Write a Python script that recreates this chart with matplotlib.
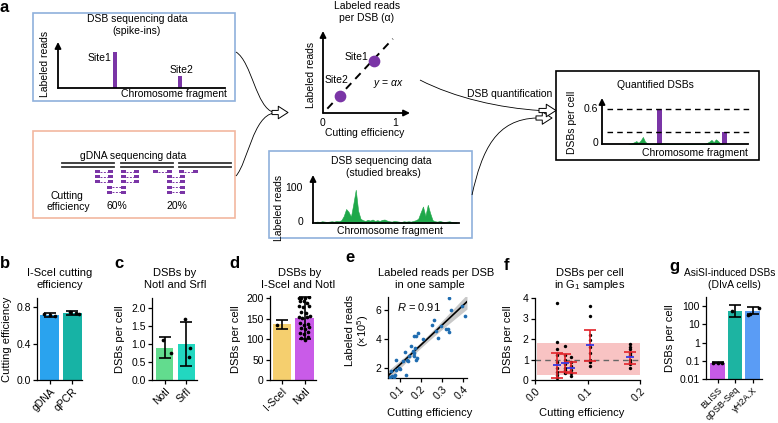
import numpy as np
import matplotlib.pyplot as plt
from matplotlib.patches import Rectangle, FancyArrowPatch, PathPatch
from matplotlib.path import Path

plt.rcParams['font.family'] = ['Liberation Sans', 'DejaVu Sans']
plt.rcParams['font.size'] = 7.5
plt.rcParams['mathtext.fontset'] = 'custom'
plt.rcParams['mathtext.rm'] = 'Liberation Sans'
plt.rcParams['mathtext.it'] = 'Liberation Sans:italic'
plt.rcParams['axes.linewidth'] = 0.9
plt.rcParams['xtick.major.size'] = 3
plt.rcParams['ytick.major.size'] = 3
plt.rcParams['xtick.major.pad'] = 1.5
plt.rcParams['ytick.major.pad'] = 1.5

# ---- data ----
# a: spike-in sites
site_names = ['Site1', 'Site2']
site_pos = [34, 73]
site_reads = [0.6, 0.2]
site_eff = [0.71, 0.24]
site_lab = [0.72, 0.24]
# a: studied breaks track (labeled reads)
studied_sig = [3, 4, 3, 5, 4, 3, 4, 5, 4, 6, 5, 8, 20, 40, 32, 18, 55, 95, 35, 12,
               8, 6, 9, 7, 10, 6, 8, 6, 9, 10, 7, 5, 4, 6, 5, 4, 3, 5, 4, 5,
               4, 6, 8, 12, 30, 47, 20, 52, 28, 8, 5, 4, 6, 4, 3, 4, 5, 3, 2, 2]
# a: quantified DSBs track
quant_pos = [18, 20, 22, 23.5, 25, 26.5, 28, 29.5, 31, 33, 42, 45, 48, 70, 72, 73.5, 75, 76.5, 78, 79.5, 81, 83]
quant_sig = [0, 0.01, 0.03, 0.05, 0.02, 0.06, 0.12, 0.04, 0.01, 0, 0.01, 0.01, 0, 0,
             0.02, 0.04, 0.07, 0.03, 0.08, 0.05, 0.01, 0]
quant_bar_pos = [39.3, 84]
quant_bar_val = [0.6, 0.2]
# a: gDNA read pairs (left px, right px, row px)
read_pairs = [(95, 113, 171.7), (95, 113, 176.7), (95, 113, 181.7),
              (121, 139, 171.7), (121, 139, 176.7), (121, 139, 181.7),
              (107, 126.5, 187.3), (107, 126.5, 192.3),
              (153.3, 171.7, 171.7), (179, 198.3, 171.7),
              (166.7, 185, 176.7), (166.7, 185, 181.7), (166.7, 185, 187.3), (166.7, 185, 192.3)]
chrom_segments = [(62, 114), (121, 173), (179, 231)]

# b
b_cats = ['gDNA', 'qPCR']
b_vals = [0.71, 0.73]
b_lo = [0.695, 0.71]
b_hi = [0.74, 0.76]
b_dots = [[0.72, 0.715, 0.70], [0.75, 0.73, 0.72]]
b_dx = [[-0.3, 0.0, 0.3], [-0.1, 0.2, 0.35]]
b_cols = ['#2aa3ee', '#17b3a5']
# c
c_cats = ['NotI', 'SrfI']
c_vals = [0.9, 1.0]
c_lo = [0.6, 0.4]
c_hi = [1.2, 1.62]
c_dots = [[1.12, 0.76], [1.69, 0.88, 0.63]]
c_dx = [[-0.06, 0.35], [-0.09, 0.2, 0.17]]
c_cols = ['#62dc8e', '#22d7c0']
# d
d_cats = ['I-SceI', 'NotI']
d_vals = [136, 152]
d_lo = [124, 100]
d_hi = [146, 203]
d_dots = [[134],
          [201, 200, 200, 203, 192, 194, 189, 180, 178, 181, 167, 163, 153, 151,
           153, 157, 139, 135, 137, 127, 124, 129, 114, 113, 116, 102, 98, 104]]
d_dx = [[-0.25],
        [-0.33, -0.2, 0.03, 0.22, -0.26, -0.04, 0.13, -0.33, -0.07, 0.22, -0.2, 0.07, -0.33, -0.12,
         0.1, 0.3, -0.26, -0.04, 0.18, -0.2, 0.03, 0.25, -0.26, -0.04, 0.18, -0.2, 0.03, 0.18]]
d_cols = ['#f5cf6e', '#c95be8']
# e
e_x = [0.053, 0.064, 0.073, 0.08, 0.061, 0.084, 0.097, 0.10, 0.084, 0.131, 0.116, 0.127,
       0.136, 0.142, 0.147, 0.155, 0.162, 0.167, 0.17, 0.173, 0.178, 0.183, 0.167, 0.178,
       0.186, 0.209, 0.252, 0.261, 0.272, 0.28, 0.298, 0.319, 0.331, 0.334, 0.334, 0.342,
       0.397, 0.41]
e_y = [1.38, 1.47, 1.38, 1.52, 1.77, 1.89, 2.0, 1.95, 2.57, 1.54, 2.46, 3.08,
       2.57, 2.46, 2.8, 3.49, 3.15, 3.03, 2.8, 3.38, 2.57, 2.69, 4.18, 4.18,
       4.41, 4.0, 4.99, 5.29, 4.57, 4.07, 4.92, 4.69, 4.69, 4.48, 6.85, 6.0,
       6.25, 5.56]
# f
f_x = [0.042, 0.057, 0.068, 0.105, 0.181]
f_mean = [0.73, 0.82, 0.6, 1.7, 1.1]
f_lo = [0.12, 0.4, 0.35, 0.95, 0.8]
f_hi = [1.33, 1.25, 0.88, 2.45, 1.38]
f_dots = [[3.75, 1.87, 1.5, 1.2, 0.9, 0.6, 0.4, 0.25, 0.1],
          [1.67, 1.2, 1.0, 0.8, 0.6, 0.5, 0.35],
          [1.1, 0.9, 0.7, 0.5, 0.35, 0.2],
          [3.6, 3.1, 2.2, 1.95, 1.6, 1.3, 1.0, 0.9, 0.7],
          [1.77, 1.6, 1.5, 1.3, 1.2, 1.0, 0.9, 0.8, 0.6]]
# g
g_cats = ['BLISS', 'qDSB-Seq', 'γH2A.X']
g_vals = [0.08, 52, 57]
g_lo = [0.078, 25, 37]
g_hi = [0.082, 122, 88]
g_dots = [[0.08, 0.08, 0.08], [56], [32, 37, 75]]
g_dx = [[-0.3, 0.0, 0.3], [-0.23], [-0.3, -0.15, 0.45]]
g_cols = ['#c65ae6', '#1db4a2', '#5a9cf5']

purple = '#7a35a6'
green = '#1fa84a'
blue_box = '#8fb0dc'
salmon_box = '#f2b7a0'

W, H = 778, 423
fig = plt.figure(figsize=(W / 100, H / 100), dpi=100)


def px_axes(x0, y0, x1, y1):
    return fig.add_axes([x0 / W, 1 - y1 / H, (x1 - x0) / W, (y1 - y0) / H])


ax0 = fig.add_axes([0, 0, 1, 1])
ax0.set_xlim(0, W)
ax0.set_ylim(H, 0)
ax0.axis('off')


def txt(x, y, s, **kw):
    kw.setdefault('ha', 'center')
    kw.setdefault('va', 'center')
    ax0.text(x, y, s, **kw)


def axis_arrow(ax, x0, y0, x1, y1):
    ax.annotate('', xy=(x1, y1), xytext=(x0, y0), annotation_clip=False,
                arrowprops=dict(arrowstyle='-|>', color='k', lw=1.3,
                                mutation_scale=9, shrinkA=0, shrinkB=0))


def bezier(p0, p1, p2, p3):
    path = Path([p0, p1, p2, p3], [Path.MOVETO, Path.CURVE4, Path.CURVE4, Path.CURVE4])
    ax0.add_patch(PathPatch(path, fill=False, ec='k', lw=0.6))


# ---- panel a: boxes ----
txt(4, 7, 'a', fontsize=12, fontweight='bold')
ax0.add_patch(Rectangle((33, 13), 202, 88, fill=False, ec=blue_box, lw=1.2))
ax0.add_patch(Rectangle((33, 131), 202, 87, fill=False, ec=salmon_box, lw=1.2))
ax0.add_patch(Rectangle((269.5, 151), 202.5, 87, fill=False, ec=blue_box, lw=1.2))
ax0.add_patch(Rectangle((556, 71), 203, 89, fill=False, ec='k', lw=1.2))

# spike-ins
txt(137, 19.5, 'DSB sequencing data')
txt(137, 31, '(spike-ins)')
txt(45, 64, 'Labeled reads', rotation=90)
txt(174, 94, 'Chromosome fragment')
txt(100, 58, site_names[0])
txt(182, 70, site_names[1])
ax1 = px_axes(58, 42, 225, 88)
ax1.set_xlim(0, 100)
ax1.set_ylim(0, 0.77)
ax1.axis('off')
ax1.bar(site_pos, site_reads, width=2.6, color=purple)
axis_arrow(ax1, 0, 0, 0, 0.77)
ax1.plot([0, 100], [0, 0], color='k', lw=1.3, clip_on=False)

# gDNA
txt(133, 156, 'gDNA sequencing data')
txt(67, 196, 'Cutting')
txt(68, 207, 'efficiency')
txt(117, 206, '60%')
txt(177, 206, '20%')
for xa, xb in chrom_segments:
    ax0.plot([xa, xb], [163.3, 163.3], color='#333333', lw=1.3)
    ax0.plot([xa, xb], [166.6, 166.6], color='#333333', lw=1.3)
for xa, xb, yy in read_pairs:
    ax0.plot([xa + 5, xb - 5], [yy, yy], color=purple, lw=0.7, ls=(0, (2, 1.5)))
    ax0.add_patch(Rectangle((xa, yy - 1.6), 5, 3.2, color=purple, lw=0))
    ax0.add_patch(Rectangle((xb - 5, yy - 1.6), 5, 3.2, color=purple, lw=0))

# alpha schematic
txt(367, 6, 'Labeled reads')
txt(367, 18, 'per DSB (α)')
txt(311, 75, 'Labeled reads', rotation=90)
txt(365, 133, 'Cutting efficiency')
txt(323, 123, '0')
txt(395, 123, '1')
txt(357, 57, site_names[0])
txt(337, 80, site_names[1])
txt(389, 84, r'$y$ = $\alpha$$x$')
ax2 = px_axes(323, 31, 410, 113)
ax2.set_xlim(0, 87 / 72)
ax2.set_ylim(0, 82 / 72)
ax2.axis('off')
ax2.plot([0.06, 0.97], [0.06, 1.03], color='k', lw=1.4, dashes=(4, 3))
ax2.scatter(site_eff, site_lab, s=55, color=purple, zorder=3, clip_on=False)
axis_arrow(ax2, 0, 0, 0, 82 / 72)
axis_arrow(ax2, 0, 0, 87 / 72, 0)

# studied breaks
txt(381, 161, 'DSB sequencing data')
txt(383, 172.5, '(studied breaks)')
txt(279, 208, 'Labeled reads', rotation=90)
txt(390, 231, 'Chromosome fragment')
txt(303, 188, '100', ha='right')
txt(303, 222, '0', ha='right')
ax3 = px_axes(313, 175, 459, 223)
ax3.set_xlim(-0.8, 60)
ax3.set_ylim(0, 137)
ax3.axis('off')
sx = np.arange(len(studied_sig))
ax3.fill_between(sx, 0, studied_sig, color=green, lw=0.4)
axis_arrow(ax3, -0.8, 0, -0.8, 137)
ax3.plot([-0.8, 60], [0, 0], color='k', lw=1.3, clip_on=False)

# quantified
txt(655, 84.5, 'Quantified DSBs')
txt(572, 122, 'DSBs per cell', rotation=90)
txt(598, 109, '0.6', ha='right')
txt(598, 143.5, '0', ha='right')
txt(695, 152.5, 'Chromosome fragment')
ax4 = px_axes(602, 98, 748, 144)
ax4.set_xlim(0, 100)
ax4.set_ylim(0, 0.78)
ax4.axis('off')
ax4.fill_between(quant_pos, 0, quant_sig, color=green, lw=0.4)
ax4.bar(quant_bar_pos, quant_bar_val, width=3.2, color=purple)
for v in quant_bar_val:
    ax4.plot([3.4, 102], [v, v], color='k', lw=1.0, dashes=(4, 3), clip_on=False)
axis_arrow(ax4, 0, 0, 0, 0.78)
ax4.plot([0, 100], [0, 0], color='k', lw=1.3, clip_on=False)

# connecting arrows
bezier((236, 52), (252, 62), (256, 108), (274, 112.5))
bezier((236, 176), (248, 162), (253, 116), (274, 113))
bezier((420, 80), (455, 98), (500, 108), (540, 110.5))
bezier((472, 195), (482, 150), (496, 119), (537, 118))
hollow = dict(arrowstyle='simple,head_length=0.7,head_width=0.9,tail_width=0.3',
              fc='white', ec='k', lw=0.7, mutation_scale=10, shrinkA=0, shrinkB=0)
ax0.add_patch(FancyArrowPatch((272, 112.5), (288, 112.5), **hollow))
ax0.add_patch(FancyArrowPatch((536, 118), (552, 118), **hollow))
ax0.add_patch(FancyArrowPatch((539, 110.5), (556, 110.5), **hollow))
txt(510, 94, 'DSB quantification')


# ---- bottom panels ----
def style(ax):
    for s in ['top', 'right']:
        ax.spines[s].set_visible(False)
    ax.tick_params(labelsize=7.5, width=0.9)


def bar_panel(ax, cats, vals, lo, hi, dots, dx, cols, width, dotsize=7):
    pos = np.arange(len(cats))
    ax.bar(pos, vals, width=width, color=cols)
    ax.errorbar(pos, vals, yerr=[np.array(vals) - np.array(lo), np.array(hi) - np.array(vals)],
                fmt='none', ecolor='k', elinewidth=1.2, capsize=4.5, capthick=1.2, zorder=4)
    for i in range(len(cats)):
        ax.scatter(pos[i] + np.array(dx[i]) * width, dots[i], s=dotsize, color='k', zorder=5, lw=0)
    ax.set_xticks(pos)
    ax.set_xticklabels(cats, rotation=45, ha='right', rotation_mode='anchor')
    style(ax)


tfs = 8
# b
txt(5, 263, 'b', fontsize=12, fontweight='bold')
txt(60, 273, 'I-SceI cutting', fontsize=tfs)
txt(60, 284.5, 'efficiency', fontsize=tfs)
txt(7, 339, 'Cutting efficiency', rotation=90, fontsize=tfs)
axb = px_axes(37, 298, 82, 380)
bar_panel(axb, b_cats, b_vals, b_lo, b_hi, b_dots, b_dx, b_cols, 0.85)
axb.set_xlim(-0.56, 1.44)
axb.set_ylim(0, 0.9)
axb.set_yticks([0, 0.4, 0.8])
axb.set_yticklabels(['0.0', '0.4', '0.8'])

# c
txt(119, 263, 'c', fontsize=12, fontweight='bold')
txt(175, 273, 'DSBs by', fontsize=tfs)
txt(175, 284.5, 'NotI and SrfI', fontsize=tfs)
txt(120, 339, 'DSBs per cell', rotation=90, fontsize=tfs)
axc = px_axes(152, 298, 197, 380)
bar_panel(axc, c_cats, c_vals, c_lo, c_hi, c_dots, c_dx, c_cols, 0.8)
axc.set_xlim(-0.57, 1.48)
axc.set_ylim(0, 2.28)
axc.set_yticks([0, 0.5, 1.0, 1.5, 2.0])
axc.set_yticklabels(['0.0', '0.5', '1.0', '1.5', '2.0'])

# d
txt(234, 263, 'd', fontsize=12, fontweight='bold')
txt(300, 273, 'DSBs by', fontsize=tfs)
txt(298, 284.5, 'I-SceI and NotI', fontsize=tfs)
txt(236, 339, 'DSBs per cell', rotation=90, fontsize=tfs)
axd = px_axes(270, 296, 316, 380)
bar_panel(axd, d_cats, d_vals, d_lo, d_hi, d_dots, d_dx, d_cols, 0.82)
axd.set_xlim(-0.53, 1.5)
axd.set_ylim(0, 205)
axd.set_yticks([0, 50, 100, 150, 200])

# e
txt(350, 258, 'e', fontsize=12, fontweight='bold')
txt(436, 273, 'Labeled reads per DSB', fontsize=tfs)
txt(430, 284.5, 'in one sample', fontsize=tfs)
txt(358, 331, 'Labeled reads\n(×10$^5$)', rotation=90, linespacing=1.1, fontsize=tfs)
txt(430, 413, 'Cutting efficiency', fontsize=tfs)
axe = px_axes(388, 297, 467, 378)
ex = np.array(e_x)
ey = np.array(e_y)
coef = np.polyfit(ex, ey, 1)
xs = np.linspace(0.045, 0.42, 60)
fit = np.polyval(coef, xs)
resid = ey - np.polyval(coef, ex)
s_err = np.sqrt(np.sum(resid ** 2) / (len(ex) - 2))
se = s_err * np.sqrt(1 / len(ex) + (xs - ex.mean()) ** 2 / np.sum((ex - ex.mean()) ** 2))
axe.fill_between(xs, fit - 2.03 * se, fit + 2.03 * se, color='#c8c8c8', lw=0, zorder=1)
axe.plot(xs, fit, color='k', lw=1.2, zorder=2)
axe.scatter(ex, ey, s=7, color='#1f6cb0', zorder=3, lw=0)
axe.text(0.09, 6.2, '$R$ = 0.91', va='center', fontsize=tfs)
axe.set_xlim(0.045, 0.42)
axe.set_ylim(1.31, 6.9)
axe.set_xticks([0.1, 0.2, 0.3, 0.4])
axe.set_xticklabels(['0.1', '0.2', '0.3', '0.4'], rotation=45, ha='right', rotation_mode='anchor')
axe.set_yticks([2, 4, 6])
style(axe)

# f
txt(507, 265, 'f', fontsize=12, fontweight='bold')
txt(590, 273, 'DSBs per cell', fontsize=tfs)
txt(590, 284.5, 'in G$_1$ samples', fontsize=tfs)
txt(508, 339, 'DSBs per cell', rotation=90, fontsize=tfs)
txt(582, 413, 'Cutting efficiency', fontsize=tfs)
axf = px_axes(535, 298, 640, 380)
axf.axhspan(0.22, 1.8, xmin=0.015, xmax=1.0, color='#f8c3c3', lw=0, zorder=0)
axf.axhline(1.0, color='#666666', lw=1.0, dashes=(4, 3), zorder=1)
for i in range(len(f_x)):
    axf.scatter([f_x[i]] * len(f_dots[i]), f_dots[i], s=6, color='k', zorder=2, lw=0)
axf.errorbar(f_x, f_mean, yerr=[np.array(f_mean) - np.array(f_lo), np.array(f_hi) - np.array(f_mean)],
             fmt='none', ecolor='#e3232a', elinewidth=1.2, capsize=4, capthick=1.2, zorder=3)
axf.hlines(f_mean, np.array(f_x) - 0.008, np.array(f_x) + 0.008, color='#3838e0', lw=1.3, zorder=4)
axf.set_xlim(0, 0.2)
axf.set_ylim(0, 4)
axf.set_xticks([0, 0.1, 0.2])
axf.set_xticklabels(['0.0', '0.1', '0.2'], rotation=45, ha='right', rotation_mode='anchor')
axf.set_yticks([0, 1, 2, 3, 4])
style(axf)

# g
txt(674, 267, 'g', fontsize=12, fontweight='bold')
txt(730, 273, 'AsiSI-induced DSBs', fontsize=7.3)
txt(734, 284.5, '(DIvA cells)', fontsize=7.5)
txt(670, 338, 'DSBs per cell', rotation=90, fontsize=tfs)
axg = px_axes(706, 297, 762, 379)
bar_panel(axg, g_cats, g_vals, g_lo, g_hi, g_dots, g_dx, g_cols, 0.85)
axg.set_yscale('log')
axg.set_xlim(-0.66, 2.54)
axg.set_ylim(0.01, 320)
axg.set_yticks([0.01, 0.1, 1, 10, 100])
axg.set_yticklabels(['0.01', '0.1', '1', '10', '100'])
axg.minorticks_off()
axg.tick_params(axis='x', labelsize=6.6)

fig.savefig('out.png', dpi=100)
